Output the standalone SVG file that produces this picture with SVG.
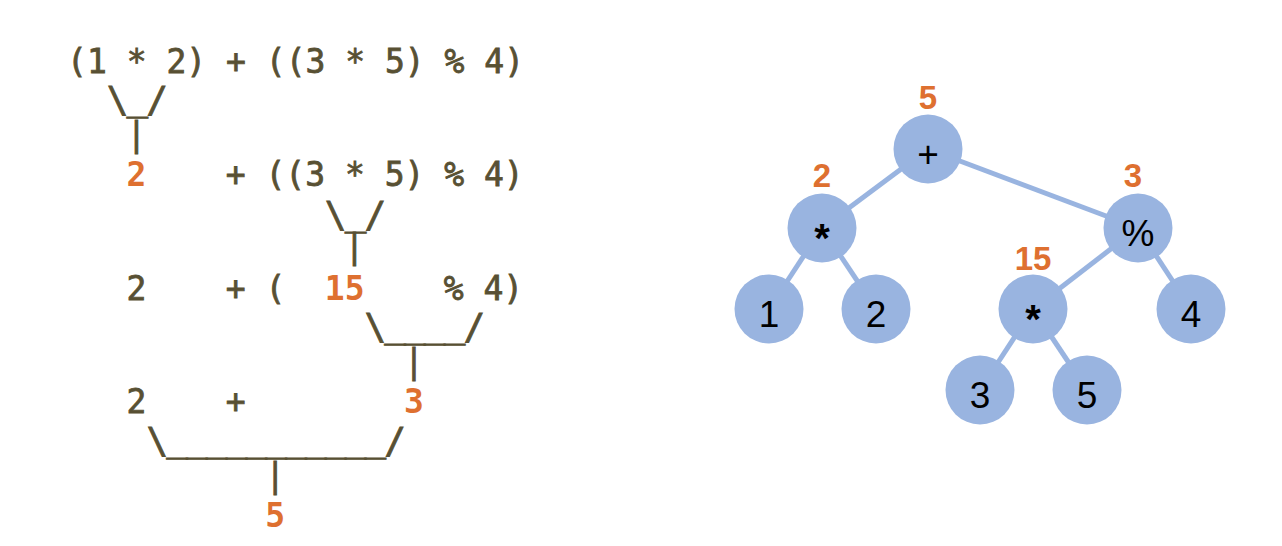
<svg xmlns="http://www.w3.org/2000/svg" width="1282" height="546" viewBox="0 0 1282 546" xml:space="preserve">
<style>
.m{font-family:"DejaVu Sans Mono","Liberation Mono",monospace;font-size:33px;fill:#585033;stroke:#585033;stroke-width:0.8px;white-space:pre}
.c{font-size:36px;letter-spacing:-1.85px}
.mo{font-family:"DejaVu Sans Mono","Liberation Mono",monospace;font-size:33px;fill:#DE7030;font-weight:bold;white-space:pre}
.edge{stroke:#99B4E0;stroke-width:5;fill:none}
.node{fill:#99B4E0}
.lbl{font-family:"Liberation Sans",Arial,sans-serif;font-size:37px;fill:#000;text-anchor:middle}
.star{font-size:40px;font-weight:bold}
.val{font-family:"Liberation Sans",Arial,sans-serif;font-size:33px;font-weight:bold;fill:#DE7030;text-anchor:middle}
</style>
<rect width="1282" height="546" fill="#fff"/>
<g id="reduction">
<text class="m" x="67.1" y="73">(1 * 2) + ((3 * 5) % 4)</text>
<text class="m c" x="106.7" y="112">\<tspan dy="-2">_</tspan><tspan dy="2">/</tspan></text>
<text class="m" x="126.6" y="146">|</text>
<text class="mo" x="126.6" y="186.4">2</text>
<text class="m" x="225.7" y="186.4">+ ((3 * 5) % 4)</text>
<text class="m c" x="324.8" y="227">\<tspan dy="-2">_</tspan><tspan dy="2">/</tspan></text>
<text class="m" x="344.6" y="258">|</text>
<text class="m" x="126.6" y="299.8">2</text>
<text class="m" x="225.7" y="299.8">+ (</text>
<text class="mo" x="324.8" y="299.8">15</text>
<text class="m" x="443.7" y="299.8">% 4)</text>
<text class="m c" x="364.4" y="339">\<tspan dy="-2">____</tspan><tspan dy="2">/</tspan></text>
<text class="m" x="404.0" y="373">|</text>
<text class="m" x="126.6" y="413.2">2</text>
<text class="m" x="225.7" y="413.2">+</text>
<text class="mo" x="404.0" y="413.2">3</text>
<text class="m c" x="146.4" y="453">\<tspan dy="-2">___________</tspan><tspan dy="2">/</tspan></text>
<text class="m" x="265.3" y="487">|</text>
<text class="mo" x="265.3" y="526.6">5</text>
</g>
<g id="connectors">
<line class="edge" x1="928" y1="149" x2="822" y2="228"/>
<line class="edge" x1="928" y1="149" x2="1138" y2="228"/>
<line class="edge" x1="822" y1="228" x2="769" y2="309"/>
<line class="edge" x1="822" y1="228" x2="876" y2="309"/>
<line class="edge" x1="1138" y1="228" x2="1033" y2="309"/>
<line class="edge" x1="1138" y1="228" x2="1191" y2="309"/>
<line class="edge" x1="1033" y1="309" x2="980" y2="390"/>
<line class="edge" x1="1033" y1="309" x2="1087" y2="390"/>
</g>
<g id="node-plus"><circle class="node" cx="928" cy="149" r="34.5"/><text class="lbl" x="928" y="167">+</text><text class="val" x="928" y="109">5</text></g>
<g id="node-mul-left"><circle class="node" cx="822" cy="228" r="34.5"/><text class="lbl star" x="822" y="252">*</text><text class="val" x="822" y="187">2</text></g>
<g id="node-1"><circle class="node" cx="769" cy="309" r="34.5"/><text class="lbl" x="769" y="327">1</text></g>
<g id="node-2"><circle class="node" cx="876" cy="309" r="34.5"/><text class="lbl" x="876" y="327">2</text></g>
<g id="node-mod"><circle class="node" cx="1138" cy="228" r="34.5"/><text class="lbl" x="1138" y="246">%</text><text class="val" x="1133" y="187">3</text></g>
<g id="node-mul-right"><circle class="node" cx="1033" cy="309" r="34.5"/><text class="lbl star" x="1033" y="333">*</text><text class="val" x="1033" y="270">15</text></g>
<g id="node-4"><circle class="node" cx="1191" cy="309" r="34.5"/><text class="lbl" x="1191" y="327">4</text></g>
<g id="node-3"><circle class="node" cx="980" cy="390" r="34.5"/><text class="lbl" x="980" y="408">3</text></g>
<g id="node-5"><circle class="node" cx="1087" cy="390" r="34.5"/><text class="lbl" x="1087" y="408">5</text></g>
</svg>
